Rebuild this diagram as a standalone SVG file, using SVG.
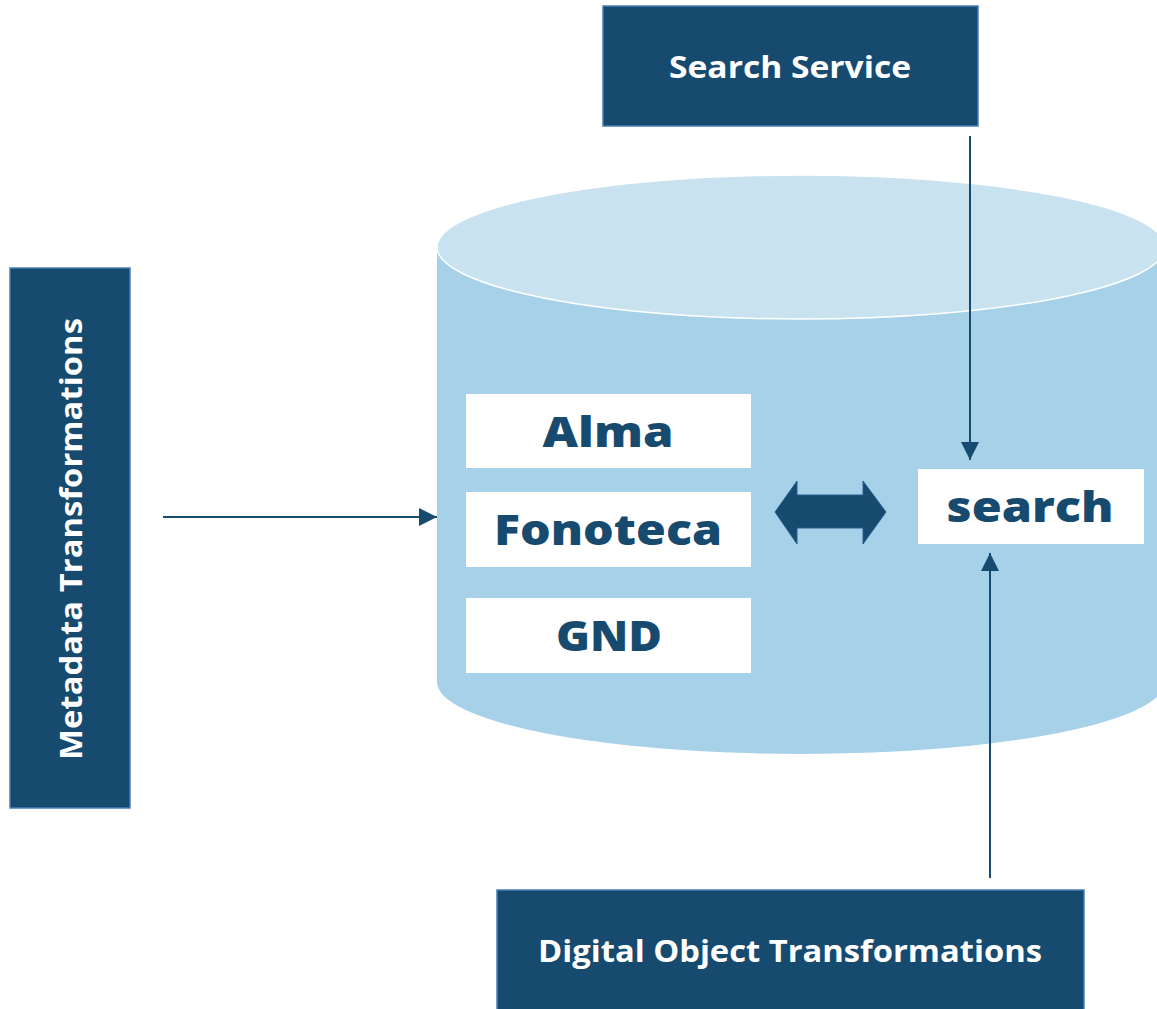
<svg xmlns="http://www.w3.org/2000/svg" width="1157" height="1009" viewBox="0 0 1157 1009">
<defs>
<style>
.dark{fill:#174a6f;stroke:#4a7db5;stroke-width:1.5}
.wbox{fill:#ffffff}
.lt{font-family:"Open Sans","Liberation Sans",sans-serif;font-weight:700;fill:#ffffff;font-size:30px;text-anchor:middle;dominant-baseline:central}
.dt{font-family:"Open Sans","Liberation Sans",sans-serif;font-weight:800;fill:#174a6f;font-size:43px;text-anchor:middle;dominant-baseline:central}
.conn{stroke:#174a6f;stroke-width:2;fill:none}
</style>
<marker id="ahb" viewBox="0 0 10 10" refX="10" refY="5" markerWidth="20" markerHeight="18" markerUnits="userSpaceOnUse" orient="auto"><path d="M0,0 L10,5 L0,10 Z" fill="#174a6f"/></marker>
</defs>
<rect width="1157" height="1009" fill="#ffffff"/>
<g id="database">
<path d="M437,247 L1165,247 L1165,682 A364,72 0 0 1 437,682 Z" fill="#a6d1e8"/>
<ellipse cx="801" cy="247" rx="364" ry="72" fill="#c8e2f0" stroke="#ffffff" stroke-width="1.5"/>
</g>
<g id="search-service">
<rect class="dark" x="603" y="6" width="375" height="120"/>
<text class="lt" x="790" y="66" textLength="242" lengthAdjust="spacingAndGlyphs">Search Service</text>
</g>
<g id="metadata-transformations">
<rect class="dark" x="10" y="268" width="120" height="540"/>
<text class="lt" x="0" y="0" transform="translate(70,539) rotate(-90)" textLength="442" lengthAdjust="spacingAndGlyphs">Metadata Transformations</text>
</g>
<g id="digital-object-transformations">
<rect class="dark" x="497" y="890" width="587" height="125"/>
<text class="lt" x="790" y="950" textLength="504" lengthAdjust="spacingAndGlyphs">Digital Object Transformations</text>
</g>
<g id="alma">
<rect class="wbox" x="466" y="394" width="285" height="74"/>
<text class="dt" x="608" y="430" textLength="131" lengthAdjust="spacingAndGlyphs">Alma</text>
</g>
<g id="fonoteca">
<rect class="wbox" x="466" y="492" width="285" height="75"/>
<text class="dt" x="608" y="528" textLength="228" lengthAdjust="spacingAndGlyphs">Fonoteca</text>
</g>
<g id="gnd">
<rect class="wbox" x="466" y="598" width="285" height="75"/>
<text class="dt" x="609" y="634" textLength="106" lengthAdjust="spacingAndGlyphs">GND</text>
</g>
<g id="search">
<rect class="wbox" x="918" y="469" width="226" height="75"/>
<text class="dt" x="1030" y="505" textLength="167" lengthAdjust="spacingAndGlyphs">search</text>
</g>
<g id="connectors">
<line class="conn" x1="970" y1="136" x2="970" y2="460" marker-end="url(#ahb)"/>
<line class="conn" x1="990" y1="878" x2="990" y2="553" marker-end="url(#ahb)"/>
<line class="conn" x1="163" y1="517" x2="437" y2="517" marker-end="url(#ahb)"/>
<path d="M775,512 L797,481 L797,495 L863,495 L863,481 L886,512 L863,544 L863,528 L797,528 L797,544 Z" fill="#174a6f" stroke="#2a5f8f" stroke-width="1"/>
</g>
</svg>
